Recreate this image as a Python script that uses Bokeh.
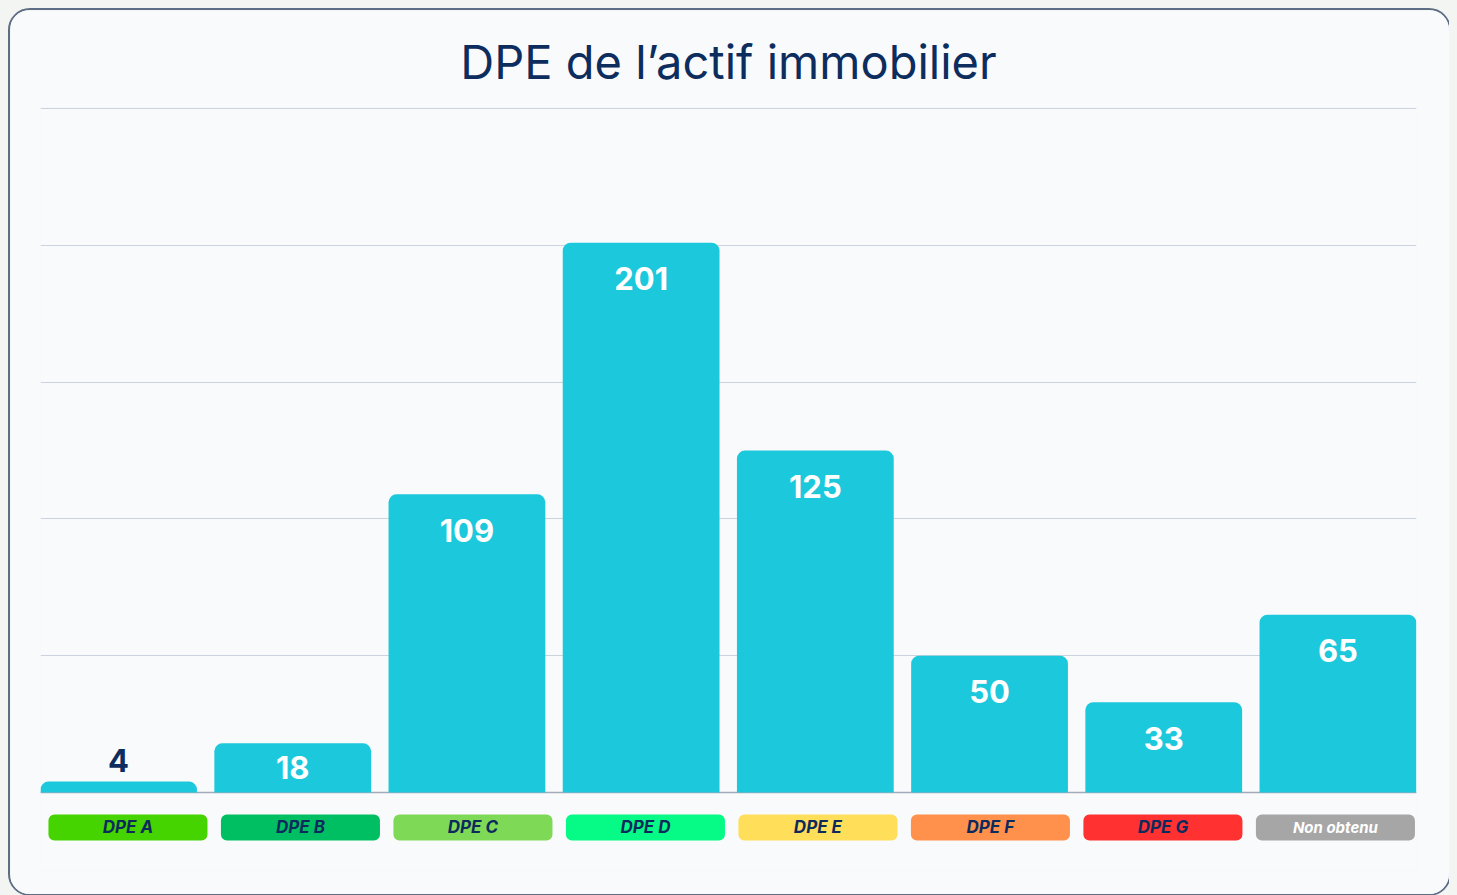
from bokeh.plotting import figure
from bokeh.models import Range1d, FixedTicker, ColumnDataSource, Span, GlobalInlineStyleSheet
from bokeh.core.properties import value
from bokeh.embed import file_html
from bokeh.resources import INLINE

# ---- data ----
categories = ["DPE A", "DPE B", "DPE C", "DPE D", "DPE E", "DPE F", "DPE G", "Non obtenu"]
counts = [4, 18, 109, 201, 125, 50, 33, 65]
badge_colors = ["#45d400", "#00bf63", "#7ed957", "#05fa86", "#ffde59", "#ff914d", "#ff3131", "#a6a6a6"]
badge_text_colors = ["#0d2a5c", "#0d2a5c", "#0d2a5c", "#0d2a5c", "#0d2a5c", "#0d2a5c", "#0d2a5c", "#ffffff"]
y_ticks = [0, 50, 100, 150, 200, 250]

BAR = "#1cc8dc"
NAVY = "#0d2d5e"
FONT = "Inter"

idx = list(range(len(categories)))
px_per_unit = 684 / 250.0

# label placement derived from bar heights
lab_off, lab_col = [], []
for v in counts:
    h = v * px_per_unit
    if h < 25:
        lab_off.append(-21); lab_col.append(NAVY)
    elif h < 70:
        lab_off.append(h / 2); lab_col.append("#ffffff")
    else:
        lab_off.append(36); lab_col.append("#ffffff")

src = ColumnDataSource(dict(x=idx, cat=categories, n=counts, lab=[str(c) for c in counts],
                            off=lab_off, lcol=lab_col))

p = figure(width=1443, height=888,
           x_range=Range1d(-0.448, 7.451), y_range=Range1d(-28.5, 250.4),
           output_backend="svg", toolbar_location=None,
           min_border_left=30, min_border_right=37, min_border_top=97, min_border_bottom=28,
           title="DPE de l\u2019actif immobilier")
p.extra_x_ranges = {"badge": Range1d(-0.507, 7.470)}

p.background_fill_color = "#f8fafc"
p.border_fill_color = "#f8fafc"
p.outline_line_color = None
p.xaxis.visible = False
p.yaxis.visible = False
p.xgrid.visible = False
p.ygrid.ticker = FixedTicker(ticks=y_ticks)
p.ygrid.grid_line_color = "#cbd3df"
p.ygrid.grid_line_width = 1.2

p.title.align = "center"
p.title.text_font = FONT
p.title.text_font_style = "normal"
p.title.text_font_size = "47px"
p.title.text_color = NAVY
p.title.standoff = 36

p.styles = {"border": "2px solid #5d6d84", "border-radius": "22px", "overflow": "hidden"}
p.stylesheets = [GlobalInlineStyleSheet(css="body{background:#f3f5f3;margin:8px;}")]

p.add_layout(Span(location=0, dimension="width", line_color="#a2abb9", line_width=1.5, level="underlay"))

p.vbar(x="x", top="n", bottom=0, width=0.9, source=src, fill_color=BAR, line_color=None,
       border_radius=(8, 8, 0, 0))

p.text(x="x", y="n", text="lab", y_offset="off", source=src, text_align="center",
       text_baseline="middle", text_font=value(FONT), text_font_style="bold",
       text_font_size="31px", text_color="lcol")

# category badges below the baseline
badge_fs = ["15px" if len(c) > 6 else "17px" for c in categories]
src_b = ColumnDataSource(dict(l=[i - 0.461 for i in idx], r=[i + 0.461 for i in idx], x=idx,
                              bcol=badge_colors, tcol=badge_text_colors, cat=categories, fs=badge_fs))
p.quad(left="l", right="r", top=-8.0, bottom=-17.5, source=src_b, x_range_name="badge",
       fill_color="bcol", line_color=None, border_radius=6)
p.text(x="x", y=-12.6, text="cat", source=src_b, x_range_name="badge", text_align="center",
       text_baseline="middle", text_font=value(FONT), text_font_style="bold italic",
       text_font_size="fs", text_color="tcol")

open("out.html", "w").write(file_html(p, INLINE))
